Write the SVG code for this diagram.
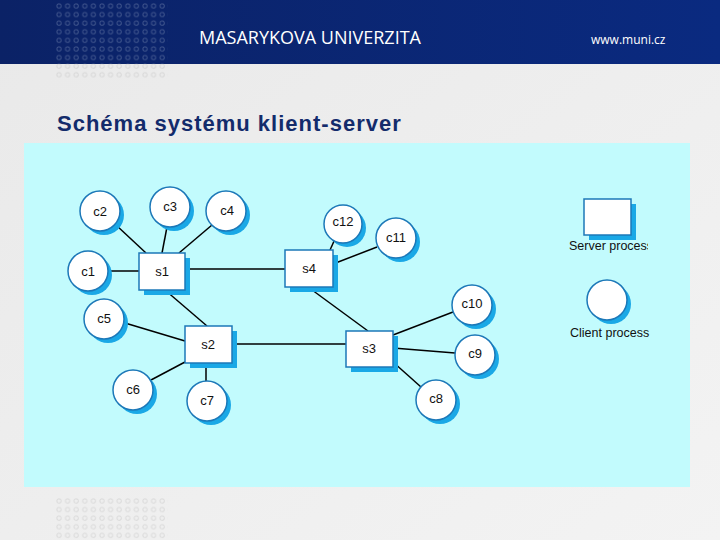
<svg xmlns="http://www.w3.org/2000/svg" width="720" height="540" viewBox="0 0 720 540">
<defs>
<linearGradient id="hdr" x1="0" y1="0" x2="1" y2="0">
<stop offset="0" stop-color="#0b2266"/>
<stop offset="1" stop-color="#0a2a80"/>
</linearGradient>
<linearGradient id="bg" x1="0" y1="0" x2="1" y2="1">
<stop offset="0" stop-color="#e9e9e9"/>
<stop offset="1" stop-color="#f3f3f3"/>
</linearGradient>
<pattern id="dotsD" x="56" y="3" width="8.6" height="8.6" patternUnits="userSpaceOnUse">
<rect x="1" y="1" width="4" height="4" rx="1.2" fill="none" stroke="#5a6e9e" stroke-width="0.7"/>
</pattern>
<pattern id="dotsL" x="56" y="3" width="8.6" height="8.6" patternUnits="userSpaceOnUse">
<rect x="1" y="1" width="4" height="4" rx="1.2" fill="none" stroke="#cccccc" stroke-width="0.7"/>
</pattern>
<pattern id="dotsB" x="56" y="498" width="8.6" height="8.6" patternUnits="userSpaceOnUse">
<rect x="1" y="1" width="4" height="4" rx="1.2" fill="none" stroke="#cfcfcf" stroke-width="0.7"/>
</pattern>
<clipPath id="legclip"><rect x="560" y="230" width="88" height="120"/></clipPath>
</defs>
<style>
.ct{fill:#ffffff;stroke:#1c78b8;stroke-width:1.5}
.sh{fill:#1aa8e6;stroke:none}
.lbl{font-family:"Liberation Sans",Arial,sans-serif;font-size:13px;fill:#111;text-anchor:middle}
.leg{font-family:"Liberation Sans",Arial,sans-serif;font-size:12.5px;fill:#111}
.ln{stroke:#000;stroke-width:1.5;fill:none}
</style>
<rect x="0" y="0" width="720" height="540" fill="url(#bg)"/>
<rect x="0" y="0" width="720" height="64" fill="url(#hdr)"/>
<rect x="56" y="3" width="112" height="61" fill="url(#dotsD)"/>
<rect x="56" y="64" width="112" height="15" fill="url(#dotsL)"/>
<rect x="56" y="498" width="112" height="42" fill="url(#dotsB)"/>
<text x="199" y="44" font-family="'Open Sans','Liberation Sans',sans-serif" font-size="18" fill="#ffffff">MASARYKOVA UNIVERZITA</text>
<text x="591" y="44" font-family="'Open Sans','Liberation Sans',sans-serif" font-size="12" fill="#ffffff">www.muni.cz</text>
<text x="57" y="131" font-family="'Liberation Sans',Arial,sans-serif" font-size="22" font-weight="bold" letter-spacing="1" fill="#132b6b">Schéma systému klient-server</text>
<rect x="24" y="143" width="666" height="344" fill="#c2fbfd"/>

<g id="connectors">
<line class="ln" x1="116" y1="225" x2="146" y2="253"/>
<line class="ln" x1="167" y1="227" x2="162" y2="253"/>
<line class="ln" x1="212" y1="225" x2="179" y2="253"/>
<line class="ln" x1="108" y1="271" x2="139" y2="271"/>
<line class="ln" x1="185" y1="269" x2="285" y2="269"/>
<line class="ln" x1="165" y1="290" x2="207" y2="326"/>
<line class="ln" x1="125" y1="323" x2="185" y2="341"/>
<line class="ln" x1="151" y1="380" x2="185" y2="362"/>
<line class="ln" x1="206" y1="363" x2="206" y2="381"/>
<line class="ln" x1="232" y1="344" x2="346" y2="344"/>
<line class="ln" x1="308" y1="287" x2="368" y2="331"/>
<line class="ln" x1="330" y1="250" x2="335" y2="239"/>
<line class="ln" x1="333" y1="264" x2="377" y2="247"/>
<line class="ln" x1="393" y1="335" x2="453" y2="312"/>
<line class="ln" x1="393" y1="348" x2="455" y2="353"/>
<line class="ln" x1="393" y1="362" x2="421" y2="387"/>
</g>

<g id="s1"><rect class="sh" x="144" y="258" width="46" height="37"/><rect class="ct" x="139" y="253" width="46" height="37"/><text class="lbl" x="162" y="276">s1</text></g>
<g id="s2"><rect class="sh" x="190" y="331" width="47" height="37"/><rect class="ct" x="185" y="326" width="47" height="37"/><text class="lbl" x="208" y="349">s2</text></g>
<g id="s3"><rect class="sh" x="351" y="336" width="47" height="36"/><rect class="ct" x="346" y="331" width="47" height="36"/><text class="lbl" x="369" y="353">s3</text></g>
<g id="s4"><rect class="sh" x="290" y="255" width="48" height="37"/><rect class="ct" x="285" y="250" width="48" height="37"/><text class="lbl" x="309" y="273">s4</text></g>

<g id="c1"><circle class="sh" cx="92" cy="275" r="20"/><circle class="ct" cx="88" cy="271" r="20"/><text class="lbl" x="88" y="276">c1</text></g>
<g id="c2"><circle class="sh" cx="104" cy="215" r="20"/><circle class="ct" cx="100" cy="211" r="20"/><text class="lbl" x="100" y="216">c2</text></g>
<g id="c3"><circle class="sh" cx="174" cy="211" r="20"/><circle class="ct" cx="170" cy="207" r="20"/><text class="lbl" x="170" y="211">c3</text></g>
<g id="c4"><circle class="sh" cx="230" cy="215" r="20"/><circle class="ct" cx="226" cy="211" r="20"/><text class="lbl" x="227" y="215">c4</text></g>
<g id="c5"><circle class="sh" cx="108" cy="323" r="20"/><circle class="ct" cx="104" cy="319" r="20"/><text class="lbl" x="104" y="323">c5</text></g>
<g id="c6"><circle class="sh" cx="137" cy="394" r="20"/><circle class="ct" cx="133" cy="390" r="20"/><text class="lbl" x="133" y="394">c6</text></g>
<g id="c7"><circle class="sh" cx="211" cy="405" r="20"/><circle class="ct" cx="207" cy="401" r="20"/><text class="lbl" x="207" y="405">c7</text></g>
<g id="c8"><circle class="sh" cx="440" cy="404" r="20"/><circle class="ct" cx="436" cy="400" r="20"/><text class="lbl" x="436" y="403">c8</text></g>
<g id="c9"><circle class="sh" cx="479" cy="359" r="20"/><circle class="ct" cx="475" cy="355" r="20"/><text class="lbl" x="475" y="358">c9</text></g>
<g id="c10"><circle class="sh" cx="476" cy="309" r="20"/><circle class="ct" cx="472" cy="305" r="20"/><text class="lbl" x="472" y="308">c10</text></g>
<g id="c11"><circle class="sh" cx="400" cy="242" r="20"/><circle class="ct" cx="396" cy="238" r="20"/><text class="lbl" x="396" y="242">c11</text></g>
<g id="c12"><circle class="sh" cx="347" cy="228" r="19"/><circle class="ct" cx="343" cy="224" r="19"/><text class="lbl" x="343" y="221" dy="0.35em">c12</text></g>

<g id="legend-server"><rect class="sh" x="589" y="204" width="47" height="36"/><rect class="ct" x="584" y="199" width="47" height="36"/><text class="leg" x="569" y="250" clip-path="url(#legclip)">Server process</text></g>
<g id="legend-client"><circle class="sh" cx="611" cy="304" r="20"/><circle class="ct" cx="607" cy="300" r="20"/><text class="leg" x="570" y="337">Client process</text></g>
</svg>
